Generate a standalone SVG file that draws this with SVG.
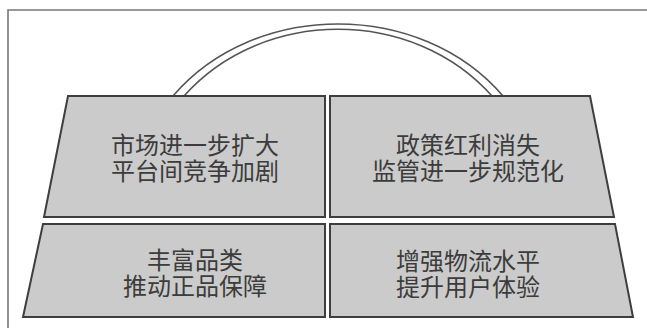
<svg xmlns="http://www.w3.org/2000/svg" width="647" height="328" viewBox="0 0 647 328">
<style>
.box{fill:#cbcbcb;stroke:#3e3e3e;stroke-width:2;stroke-linejoin:miter}
.t{font-family:"Noto Sans CJK SC","Noto Sans",sans-serif;font-size:24px;fill:#3c3c3c;text-anchor:middle}
.arc{fill:none;stroke:#555;stroke-width:1.6}
</style>
<rect x="0" y="0" width="647" height="328" fill="#ffffff"/>
<path d="M8 330 V10 H650" fill="none" stroke="#777" stroke-width="1.6"/>
<g id="connectors">
<path class="arc" d="M173 96 C255 0 421 0 503 96"/>
<path class="arc" d="M184 96 C263 7 413 7 492 96"/>
</g>
<g id="node1">
<path class="box" d="M68 96 H325 V217 H44 Z"/>
<text class="t" x="195" y="154">市场进一步扩大</text>
<text class="t" x="195" y="180">平台间竞争加剧</text>
</g>
<g id="node2">
<path class="box" d="M330 96 H590 L614 217 H330 Z"/>
<text class="t" x="468" y="154">政策红利消失</text>
<text class="t" x="468" y="180">监管进一步规范化</text>
</g>
<g id="node3">
<path class="box" d="M43 224 H325 V317 H23 Z"/>
<text class="t" x="195" y="269">丰富品类</text>
<text class="t" x="195" y="295">推动正品保障</text>
</g>
<g id="node4">
<path class="box" d="M330 224 H615 L633 317 H330 Z"/>
<text class="t" x="468" y="270">增强物流水平</text>
<text class="t" x="468" y="296">提升用户体验</text>
</g>
</svg>
